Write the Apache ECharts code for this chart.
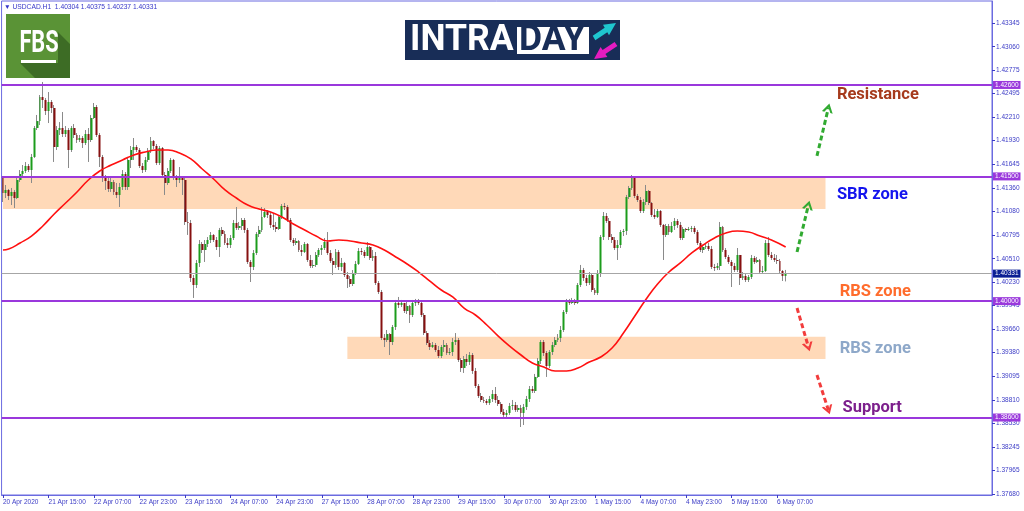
<!DOCTYPE html>
<html><head><meta charset="utf-8">
<script src="https://cdn.jsdelivr.net/npm/echarts@6/dist/echarts.min.js"></script>
<style>html,body{margin:0;padding:0;background:#fff;}#c{width:1024px;height:511px;}</style>
</head><body><div id="c"></div>
<script>
// ---- data (USDCAD H1, 20 Apr 23:00 .. 6 May 10:00) ----
const firstOpen = 1.41481;
const closes = [
1.41301,1.41337,1.41265,1.41313,1.41240,1.41457,1.41529,1.41565,1.41625,1.41577,
1.41734,1.42082,1.42166,1.42455,1.42419,1.42287,1.42395,1.42323,1.41854,1.42058,
1.42082,1.42010,1.42058,1.41818,1.42082,1.41998,1.41938,1.41962,1.41902,1.42010,
1.41938,1.42203,1.42335,1.41998,1.41734,1.41481,1.41445,1.41349,1.41433,1.41313,
1.41277,1.41373,1.41529,1.41373,1.41698,1.41818,1.41854,1.41818,1.41625,1.41577,
1.41698,1.41806,1.41926,1.41866,1.41661,1.41842,1.41517,1.41421,1.41565,1.41698,
1.41493,1.41457,1.41481,1.41457,1.40952,1.40940,1.40278,1.40194,1.40459,1.40687,
1.40615,1.40687,1.40735,1.40795,1.40735,1.40651,1.40856,1.40807,1.40699,1.40675,
1.40759,1.40940,1.40880,1.40904,1.40976,1.40856,1.40471,1.40411,1.40579,1.40807,
1.40856,1.41012,1.41072,1.41036,1.40916,1.40892,1.40868,1.41012,1.41144,1.41132,
1.40976,1.40735,1.40699,1.40723,1.40615,1.40591,1.40687,1.40495,1.40423,1.40435,
1.40555,1.40615,1.40639,1.40711,1.40579,1.40483,1.40435,1.40591,1.40411,1.40459,
1.40314,1.40266,1.40206,1.40338,1.40447,1.40603,1.40591,1.40543,1.40651,1.40519,
1.40543,1.40218,1.40110,1.39556,1.39532,1.39604,1.39508,1.39689,1.39978,1.39954,
1.39978,1.39881,1.39941,1.39833,1.39978,1.39990,1.39978,1.39833,1.39616,1.39496,
1.39448,1.39472,1.39412,1.39340,1.39448,1.39472,1.39376,1.39388,1.39508,1.39532,
1.39292,1.39196,1.39304,1.39268,1.39352,1.39160,1.38979,1.38859,1.38811,1.38799,
1.38775,1.38823,1.38883,1.38811,1.38763,1.38667,1.38631,1.38655,1.38739,1.38751,
1.38691,1.38715,1.38655,1.38727,1.38823,1.38943,1.38919,1.39088,1.39280,1.39508,
1.39376,1.39220,1.39388,1.39472,1.39532,1.39556,1.39653,1.39869,1.39990,1.39978,
1.40002,1.39978,1.40194,1.40374,1.40278,1.40218,1.40314,1.40134,1.40098,1.40326,
1.40771,1.41024,1.40964,1.40771,1.40735,1.40639,1.40675,1.40831,1.40844,1.41252,
1.41361,1.41493,1.41265,1.41216,1.41084,1.41192,1.41325,1.41180,1.41036,1.41012,
1.41084,1.40916,1.40796,1.40904,1.40831,1.40904,1.40964,1.40916,1.40759,1.40868,
1.40856,1.40868,1.40880,1.40831,1.40699,1.40615,1.40651,1.40663,1.40627,1.40411,
1.40399,1.40423,1.40892,1.40615,1.40531,1.40471,1.40423,1.40374,1.40555,1.40278,
1.40302,1.40254,1.40290,1.40519,1.40471,1.40495,1.40350,1.40362,1.40699,1.40555,
1.40519,1.40495,1.40483,1.40362,1.40304,1.40331];
const highs = [
1.41505,1.41397,1.41349,1.41361,1.41337,1.41493,1.41577,1.41637,1.41673,1.41649,
1.41770,1.42106,1.42239,1.42479,1.42636,1.42443,1.42515,1.42419,1.42359,1.42106,
1.42154,1.42275,1.42106,1.42082,1.42106,1.42130,1.42022,1.41998,1.41986,1.42058,
1.42082,1.42239,1.42383,1.42359,1.42022,1.41758,1.41517,1.41481,1.41481,1.41457,
1.41421,1.41421,1.41577,1.41553,1.41734,1.41866,1.41962,1.41878,1.41842,1.41661,
1.41734,1.41842,1.41974,1.41938,1.41890,1.41866,1.41854,1.41553,1.41601,1.41722,
1.41710,1.41517,1.41613,1.41505,1.41481,1.41072,1.40976,1.40314,1.40495,1.40735,
1.40711,1.40735,1.40771,1.40831,1.40807,1.40771,1.40880,1.40892,1.40844,1.40759,
1.40795,1.40976,1.41132,1.40952,1.41000,1.41000,1.40880,1.40495,1.40615,1.40831,
1.40904,1.41132,1.41120,1.41096,1.41072,1.41060,1.40952,1.41036,1.41168,1.41180,
1.41156,1.41000,1.40759,1.40759,1.40735,1.40675,1.40711,1.40699,1.40555,1.40495,
1.40591,1.40639,1.40675,1.40759,1.40831,1.40615,1.40519,1.40627,1.40615,1.40519,
1.40471,1.40350,1.40302,1.40374,1.40483,1.40639,1.40639,1.40615,1.40711,1.40663,
1.40615,1.40591,1.40242,1.40134,1.39604,1.39653,1.39616,1.39713,1.40014,1.40050,
1.40014,1.39978,1.39990,1.39954,1.40014,1.40026,1.40026,1.40002,1.39857,1.39641,
1.39532,1.39508,1.39496,1.39460,1.39472,1.39532,1.39496,1.39436,1.39556,1.39616,
1.39556,1.39316,1.39340,1.39364,1.39388,1.39376,1.39196,1.39003,1.38895,1.38847,
1.38823,1.38859,1.38931,1.38967,1.38859,1.38787,1.38703,1.38691,1.38775,1.38811,
1.38787,1.38751,1.38751,1.38763,1.38859,1.38979,1.38979,1.39124,1.39316,1.39532,
1.39532,1.39400,1.39412,1.39508,1.39568,1.39604,1.39701,1.39893,1.40026,1.40026,
1.40038,1.40026,1.40218,1.40435,1.40399,1.40314,1.40350,1.40338,1.40158,1.40374,
1.40795,1.41072,1.41060,1.41000,1.40807,1.40771,1.40735,1.40856,1.40868,1.41277,
1.41385,1.41517,1.41505,1.41289,1.41252,1.41228,1.41397,1.41337,1.41192,1.41108,
1.41108,1.41096,1.40928,1.40928,1.40928,1.40952,1.41000,1.40988,1.40952,1.40892,
1.40880,1.40892,1.40904,1.40904,1.40856,1.40723,1.40675,1.40699,1.40699,1.40663,
1.40447,1.40459,1.40952,1.40904,1.40639,1.40555,1.40495,1.40459,1.40639,1.40555,
1.40350,1.40326,1.40314,1.40555,1.40543,1.40531,1.40507,1.40423,1.40735,1.40771,
1.40591,1.40567,1.40555,1.40507,1.40374,1.40375];
const lows = [
1.41192,1.41240,1.41216,1.41156,1.41120,1.41228,1.41433,1.41493,1.41541,1.41553,
1.41421,1.41722,1.42058,1.42118,1.42323,1.42239,1.42142,1.42263,1.41674,1.41818,
1.41998,1.41974,1.41974,1.41601,1.41794,1.41962,1.41902,1.41914,1.41842,1.41878,
1.41674,1.41914,1.42191,1.41974,1.41613,1.41433,1.41337,1.41313,1.41313,1.41277,
1.41240,1.41132,1.41337,1.41337,1.41337,1.41601,1.41698,1.41794,1.41601,1.41541,
1.41553,1.41674,1.41782,1.41830,1.41637,1.41637,1.41493,1.41277,1.41397,1.41541,
1.41457,1.41373,1.41421,1.41277,1.40916,1.40796,1.40230,1.40038,1.40158,1.40411,
1.40579,1.40471,1.40651,1.40699,1.40711,1.40615,1.40531,1.40783,1.40675,1.40639,
1.40639,1.40735,1.40856,1.40856,1.40856,1.40820,1.40447,1.40230,1.40374,1.40555,
1.40771,1.40831,1.41000,1.41000,1.40880,1.40856,1.40831,1.40856,1.40988,1.41096,
1.40952,1.40711,1.40663,1.40675,1.40591,1.40543,1.40579,1.40471,1.40399,1.40399,
1.40411,1.40531,1.40555,1.40615,1.40555,1.40459,1.40314,1.40399,1.40374,1.40362,
1.40290,1.40158,1.40170,1.40182,1.40314,1.40435,1.40555,1.40519,1.40543,1.40495,
1.40483,1.40194,1.40086,1.39532,1.39448,1.39508,1.39352,1.39472,1.39653,1.39917,
1.39929,1.39857,1.39845,1.39737,1.39809,1.39941,1.39954,1.39809,1.39592,1.39472,
1.39412,1.39436,1.39388,1.39316,1.39316,1.39388,1.39352,1.39352,1.39340,1.39472,
1.39268,1.39148,1.39136,1.39220,1.39232,1.39124,1.38955,1.38835,1.38787,1.38775,
1.38751,1.38751,1.38787,1.38775,1.38739,1.38643,1.38607,1.38595,1.38631,1.38691,
1.38667,1.38667,1.38486,1.38510,1.38691,1.38787,1.38895,1.38895,1.39076,1.39244,
1.39340,1.39088,1.39196,1.39352,1.39448,1.39508,1.39508,1.39629,1.39845,1.39954,
1.39966,1.39954,1.39966,1.40170,1.40242,1.40182,1.40194,1.40110,1.40074,1.40074,
1.40290,1.40735,1.40940,1.40735,1.40699,1.40615,1.40495,1.40639,1.40783,1.40796,
1.41228,1.41337,1.41240,1.41192,1.41060,1.41060,1.41156,1.41156,1.41012,1.40988,
1.41000,1.40892,1.40495,1.40771,1.40796,1.40820,1.40856,1.40880,1.40735,1.40735,
1.40831,1.40844,1.40831,1.40807,1.40675,1.40591,1.40579,1.40627,1.40603,1.40386,
1.40362,1.40374,1.40374,1.40591,1.40507,1.40447,1.40170,1.40350,1.40350,1.40194,
1.40254,1.40230,1.40230,1.40266,1.40447,1.40459,1.40326,1.40326,1.40350,1.40531,
1.40495,1.40471,1.40447,1.40338,1.40242,1.40237];
// moving average (red line), read at every 4th bar
const maIndex = [0,2,6,10,14,18,22,26,30,34,38,42,46,50,54,58,62,66,70,74,78,82,86,90,94,98,102,106,110,114,118,122,126,130,134,138,142,146,150,154,158,162,166,170,174,178,182,186,190,194,198,202,206,210,214,218,222,226,230,234,238,242,246,250,254,258,262,266,270,275];
const maValues = [1.40615,1.40627,1.40699,1.40783,1.40904,1.41048,1.41180,1.41313,1.41457,1.41565,1.41637,1.41698,1.41758,1.41794,1.41818,1.41818,1.41782,1.41710,1.41589,1.41469,1.41337,1.41240,1.41156,1.41108,1.41072,1.41012,1.40928,1.40856,1.40783,1.40723,1.40735,1.40723,1.40699,1.40675,1.40615,1.40531,1.40447,1.40350,1.40242,1.40134,1.40050,1.39917,1.39833,1.39713,1.39580,1.39460,1.39352,1.39256,1.39208,1.39160,1.39160,1.39196,1.39268,1.39328,1.39436,1.39616,1.39821,1.40026,1.40206,1.40350,1.40459,1.40579,1.40675,1.40759,1.40820,1.40844,1.40831,1.40783,1.40735,1.40651];
const xTickLabels = ['20 Apr 2020','21 Apr 15:00','22 Apr 07:00','22 Apr 23:00','23 Apr 15:00','24 Apr 07:00','24 Apr 23:00','27 Apr 15:00','28 Apr 07:00','28 Apr 23:00','29 Apr 15:00','30 Apr 07:00','30 Apr 23:00','1 May 15:00','4 May 07:00','4 May 23:00','5 May 15:00','6 May 07:00'];
const yTickValues = [1.43345,1.43060,1.42775,1.42495,1.42210,1.41930,1.41645,1.41360,1.41080,1.40795,1.40510,1.40230,1.39945,1.39660,1.39380,1.39095,1.38810,1.38530,1.38245,1.37965,1.37680];
const levelLines = [1.42600,1.41500,1.40000,1.38600];
const lastPrice = 1.40331;
const sbrZone = [1.41480,1.41108];
const rbsZone = [1.39572,1.39304];
const headerText = '\u25BC USDCAD.H1  1.40304 1.40375 1.40237 1.40331';

// ---- chart ----
const SLOTS = 348;           // bars + empty shift space on the right
const categories = Array.from({length: SLOTS}, (_, i) => String(i));
const opens = closes.map((c, i) => i === 0 ? firstOpen : closes[i - 1]);
const candles = closes.map((c, i) => [opens[i], c, Math.min(lows[i], opens[i], c), Math.max(highs[i], opens[i], c)]);
const bodies = closes.map((c, i) => [opens[i], c, Math.min(opens[i], c), Math.max(opens[i], c)]);
const maData = maIndex.map((k, j) => [k, maValues[j]]);

const AX = '#3b3bc6', FRAME = '#6b6be0', PURPLE = '#9a38dc';
const FONT = 'Liberation Sans';
const chevron = 'path://M0,9 L6,0 L12,9 L9.4,9 L6,3.9 L2.6,9 Z';
const GREEN = '#31aa31', RED = '#f23c3c';

function arrow(x0, y0, x1, y1, color) {
  return [{coord: [x0, y0], lineStyle: {color}, itemStyle: {color}}, {coord: [x1, y1], lineStyle: {color}, itemStyle: {color}}];
}
function note(x, y, text, color) {
  return {coord: [x, y], symbol: 'circle', symbolSize: 0,
    label: {show: true, position: 'right', distance: 0, formatter: text, color,
      fontSize: 16.5, fontWeight: 'bold', fontFamily: 'Roboto'}};
}
function hLine(v, color, width, bg) {
  return {yAxis: v, lineStyle: {color, width, type: 'solid'}, label: {formatter: v.toFixed(5), backgroundColor: bg}};
}

const chart = echarts.init(document.getElementById('c'), null, {renderer: 'canvas'});
chart.setOption({
  animation: false,
  backgroundColor: '#ffffff',
  grid: {left: 1, right: 32, top: 1, bottom: 16, show: true, borderColor: FRAME, borderWidth: 1},
  xAxis: {
    type: 'category', data: categories, boundaryGap: true,
    axisLine: {show: true, lineStyle: {color: FRAME}},
    axisTick: {show: true, alignWithLabel: true, length: 3, lineStyle: {color: AX},
      interval: (i) => i % 16 === 0 && i / 16 < xTickLabels.length},
    axisLabel: {show: true, margin: 4, align: 'left', fontSize: 6.5, fontFamily: FONT, color: AX,
      interval: (i) => i % 16 === 0 && i / 16 < xTickLabels.length,
      formatter: (v, i) => (i % 16 === 0 && i / 16 < xTickLabels.length) ? xTickLabels[i / 16] : ''},
    splitLine: {show: false}
  },
  yAxis: {
    type: 'value', position: 'right', min: 1.37668, max: 1.43610, scale: true,
    axisLine: {show: true, lineStyle: {color: FRAME}},
    axisTick: {show: true, length: 3, lineStyle: {color: AX}, customValues: yTickValues},
    axisLabel: {show: true, margin: 4, fontSize: 6.5, fontFamily: FONT, color: AX,
      customValues: yTickValues, formatter: (v) => v.toFixed(5)},
    splitLine: {show: false}
  },
  series: [
    {
      name: 'wicks', type: 'candlestick', data: candles, barWidth: 1,
      itemStyle: {color: '#8a8a8a', color0: '#8a8a8a', borderColor: '#8a8a8a', borderColor0: '#8a8a8a', borderWidth: 1},
      markArea: {silent: true, itemStyle: {color: '#ffd9b8'},
        data: [
          [{xAxis: 0, yAxis: sbrZone[0]}, {xAxis: 289, yAxis: sbrZone[1]}],
          [{xAxis: 121, yAxis: rbsZone[0]}, {xAxis: 289, yAxis: rbsZone[1]}]
        ]}
    },
    {
      name: 'bodies', type: 'candlestick', data: bodies, barWidth: 2.4,
      itemStyle: {color: '#1c9c1c', color0: '#861010', borderColor: '#1c9c1c', borderColor0: '#861010', borderWidth: 0},
      markLine: {silent: true, symbol: ['none', chevron], symbolSize: [11, 9], precision: 5,
        label: {show: false},
        lineStyle: {type: [5, 3], width: 3},
        data: [
          arrow(286, 1.41746, 290, 1.42323, GREEN),
          arrow(279, 1.40591, 283, 1.41156, GREEN),
          arrow(279, 1.39917, 283, 1.39448, RED),
          arrow(286, 1.39111, 290, 1.38691, RED)
        ]},
      markPoint: {silent: true,
        data: [
          note(293, 1.42479, 'Resistance', '#a63a1c'),
          note(293, 1.41277, 'SBR zone', '#1414ee'),
          note(294, 1.40116, 'RBS zone', '#ff6c2c'),
          note(294, 1.39424, 'RBS zone', '#8ea8c9'),
          note(295, 1.38715, 'Support', '#7c1f8c')
        ]}
    },
    {
      name: 'MA', type: 'line', data: maData, smooth: true, showSymbol: false, z: 4,
      lineStyle: {color: '#ff1010', width: 1.6},
      markLine: {silent: true, symbol: ['none', 'none'], z: 5, precision: 5,
        label: {show: true, position: 'end', distance: 1, color: '#fff', fontSize: 6.5, fontFamily: FONT,
          padding: [1, 2, 0, 2], lineHeight: 7},
        data: levelLines.map(v => hLine(v, PURPLE, 2, PURPLE))
          .concat([hLine(lastPrice, '#a6a6a6', 1, '#0c1f94')])
      }
    }
  ],
  graphic: [
    {type: 'text', z: 100, style: {text: headerText, x: 4, y: 7, fontSize: 6.7, fontFamily: FONT, fill: '#3535c8', verticalAlign: 'middle'}},
    // FBS logo
    {type: 'rect', z: 100, shape: {x: 6, y: 14, width: 64, height: 64}, style: {fill: '#5a9336'}},
    {type: 'polygon', z: 101, shape: {points: [[58, 32], [70, 44], [70, 78], [35, 78], [20, 63], [58, 63]]}, style: {fill: '#3d6c25'}},
    {type: 'text', z: 102, x: 39, y: 44, scaleX: 0.68, style: {text: 'FBS', x: 0, y: 0, align: 'center', verticalAlign: 'middle', fontSize: 32, fontWeight: 'bold', fontFamily: 'Roboto', fill: '#ffffff'}},
    {type: 'rect', z: 102, shape: {x: 21, y: 60, width: 35, height: 3}, style: {fill: '#ffffff'}},
    // INTRADAY logo
    {type: 'rect', z: 100, shape: {x: 405, y: 20, width: 215, height: 40}, style: {fill: '#182d57'}},
    {type: 'text', z: 101, x: 410, y: 41, scaleX: 0.96, style: {text: 'INTRA', x: 0, y: 0, verticalAlign: 'middle', fontSize: 37, fontWeight: 'bold', fontFamily: 'Roboto', fill: '#ffffff'}},
    {type: 'rect', z: 101, shape: {x: 517, y: 27, width: 72, height: 27}, style: {fill: '#ffffff'}},
    {type: 'text', z: 102, x: 519, y: 41, scaleX: 0.96, style: {text: 'DAY', x: 0, y: 0, verticalAlign: 'middle', fontSize: 37, fontWeight: 'bold', fontFamily: 'Roboto', fill: '#182d57'}},
    {type: 'polygon', z: 101, shape: {points: [[592.7, 35.8], [604.7, 27.8], [603, 24.8], [616, 23], [609, 35.2], [607.3, 32.2], [595.3, 40.2]]}, style: {fill: '#1fc6cf'}},
    {type: 'polygon', z: 101, shape: {points: [[614.6, 41.9], [602.6, 49.9], [600.6, 47], [594, 59], [607.4, 57], [605.4, 54.1], [617.4, 46.1]]}, style: {fill: '#e41cc0'}}
  ]
});
</script>
</body></html>
